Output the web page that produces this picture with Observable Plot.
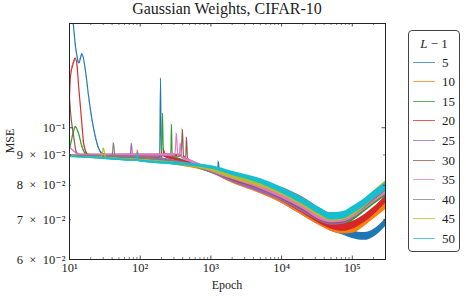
<!DOCTYPE html>
<html><head><meta charset="utf-8">
<script src="https://cdn.jsdelivr.net/npm/d3@7"></script>
<script src="https://cdn.jsdelivr.net/npm/@observablehq/plot@0.6"></script>
<style>
body{margin:0;background:#fff;}
#wrap{position:relative;width:466px;height:299px;font-family:"Liberation Serif","DejaVu Serif",serif;color:#222;overflow:hidden;}
#title{position:absolute;left:69px;width:316px;top:-1px;text-align:center;font-size:16px;line-height:20px;white-space:nowrap;}
#xlabel{position:absolute;left:69px;width:316px;top:278px;text-align:center;font-size:12px;line-height:14px;}
#ylabel{position:absolute;left:10px;top:141px;font-size:12px;line-height:14px;transform:translate(-50%,-50%) rotate(-90deg);white-space:nowrap;}
#legend{position:absolute;left:408px;top:30px;width:50px;height:220px;border:1px solid #444;border-radius:4px;background:#fff;}
#legend .t{position:absolute;left:0;width:50px;top:5px;text-align:center;font-size:13px;line-height:16px;}
#legend .e{position:absolute;left:0;width:50px;height:16px;}
#legend .sw{position:absolute;left:4px;top:7px;width:22px;height:0;border-top:1.6px solid;opacity:0.75;}
#legend .lb{position:absolute;left:33px;top:0;font-size:13px;line-height:16px;}
</style></head>
<body><div id="wrap">
<div id="title">Gaussian Weights, CIFAR-10</div>
<div id="chart"></div>
<div id="xlabel">Epoch</div>
<div id="ylabel">MSE</div>
<div id="legend"></div>
</div>
<script>
// ---- data ----
const lMinus1 = [5, 10, 15, 20, 25, 30, 35, 40, 45, 50];
const palette = ["#1f77b4","#ff7f0e","#2ca02c","#d62728","#9467bd","#8c564b","#e377c2","#7f7f7f","#bcbd22","#17becf"];

const xTicks = [10, 100, 1000, 10000, 100000];
const yTicks = [0.06, 0.07, 0.08, 0.09, 0.1];

// shared epoch grid for the long, smooth part of every run
const lateEpochs = [1e3, 2e3, 5e3, 1e4, 2e4, 3.5e4, 5e4, 7.5e4, 1e5, 1.5e5, 2e5, 3e5];

// early transients: [epoch, MSE]
const early5  = [[10,.175],[11.3,.150],[12.2,.1368],[12.85,.1316],[13.5,.1285],[15.1,.1330],[16.8,.125],[18.7,.1127],[20.9,.1030],[23.3,.0965],[25.9,.0923],[29,.0905],[40,.0895],[188,.0888],[194,.1212],[199,.0887],[250,.0880],[500,.0866],[1240,.0840],[1280,.0876],[1320,.0838]];
const early10 = [[10,.0897],[30,.0890],[88,.0884],[91.5,.0916],[95,.0883],[100,.0883],[300,.0870]];
const early15 = [[10,.0920],[10.3,.0934],[12.2,.1003],[13.5,.0977],[15.1,.0928],[16.8,.0904],[20,.0899],[200,.0898],[207,.1058],[212,.0920],[218,.0897],[270,.0893],[277,.1013],[284,.0892],[350,.0885]];
const early20 = [[10,.112],[10.3,.1218],[11.3,.1283],[12.2,.1308],[12.85,.1266],[13.5,.1171],[14.3,.1084],[15.1,.1003],[15.9,.0940],[17.8,.0904],[19.8,.0898],[210,.0897],[217,.0916],[224,.0895],[300,.0886],[500,.0870]];
const early25 = [[10,.0897],[72,.0896],[75.3,.0941],[78,.0894],[100,.0892],[300,.0878]];
const early30 = [[10,.1125],[10.3,.107],[11.5,.0965],[12.5,.0910],[14,.0900],[100,.0899],[380,.0897],[396,.0994],[410,.0893],[440,.0890],[452,.0964],[468,.0885],[600,.0870]];
const early35 = [[10,.0925],[11,.0918],[12.5,.0905],[14,.0901],[100,.0900],[310,.0900],[326,.0979],[340,.0899],[355,.0898],[371,.0941],[385,.0893],[500,.0880]];
const early40 = [[10,.0897],[40,.0895],[41.9,.0942],[44,.0894],[100,.0890],[300,.0875]];
const early45 = [[10,.0895],[28,.0890],[30.3,.0923],[32.5,.0889],[100,.0881],[300,.0871]];
const early50 = [[10,.0895],[30,.0888],[88,.0881],[91,.0905],[94,.0880],[100,.0879],[300,.0870]];

// MSE on lateEpochs
const late5  = [.0845,.0816,.0785,.0755,.0720,.0693,.0679,.0669,.0661,.0656,.0664,.0693];
const late10 = [.0845,.0813,.0782,.0755,.0720,.0693,.0679,.0672,.0674,.0693,.0712,.0740];
const late15 = [.0845,.0819,.0791,.0764,.0732,.0704,.0695,.0695,.0706,.0732,.0752,.0779];
const late20 = [.0848,.0819,.0788,.0761,.0726,.0698,.0685,.0679,.0685,.0704,.0723,.0758];
const late25 = [.0845,.0816,.0785,.0761,.0729,.0704,.0695,.0698,.0712,.0740,.0767,.0800];
const late30 = [.0848,.0822,.0794,.0767,.0735,.0706,.0698,.0701,.0715,.0740,.0764,.0794];
const late35 = [.0848,.0825,.0797,.0770,.0738,.0709,.0701,.0704,.0715,.0738,.0758,.0785];
const late40 = [.0851,.0832,.0806,.0785,.0755,.0723,.0709,.0709,.0720,.0743,.0764,.0794];
const late45 = [.0851,.0828,.0803,.0779,.0746,.0717,.0706,.0709,.0720,.0746,.0770,.0803];
const late50 = [.0858,.0838,.0813,.0785,.0752,.0723,.0709,.0712,.0726,.0749,.0770,.0797];

// half-width of the noisy band (decades of MSE) versus epoch
const noiseEpochs = [10, 100, 1e3, 1e4, 1e5, 3e5];
const noiseSpread = [0.0012, 0.0015, 0.003, 0.005, 0.0065, 0.0065];

// ---- build table ----
const earlyAll = [early5, early10, early15, early20, early25, early30, early35, early40, early45, early50];
const lateAll = [late5, late10, late15, late20, late25, late30, late35, late40, late45, late50];
const spread = d3.scaleLog().domain(noiseEpochs).range(noiseSpread).clamp(true);

const series = lMinus1.map((L, i) => {
  const pts = earlyAll[i].concat(lateEpochs.map((e, j) => [e, lateAll[i][j]]));
  pts.sort((a, b) => a[0] - b[0]);
  return pts.map(([epoch, mse]) => {
    const h = Math.pow(10, spread(epoch));
    return {L, epoch, mse, lo: mse / h, hi: mse * h};
  });
});

const sup = {"0":"\u2070","1":"\u00b9","2":"\u00b2","3":"\u00b3","4":"\u2074","5":"\u2075","-":"\u207b"};
const toSup = s => String(s).split("").map(c => sup[c]).join("");
const fmtX = d => "10" + toSup(Math.round(Math.log10(d)));
const fmtY = d => Math.abs(d - 0.1) < 1e-9 ? "10" + toSup(-1) : `${Math.round(d * 100)}\u2002\u00d7\u200210${toSup(-2)}`;

const xMinor = [];
for (const dec of [10, 100, 1000, 10000, 100000]) for (let m = 2; m <= 9; m++) if (m * dec <= 2.95e5) xMinor.push(m * dec);
const yMajor = [0.1], yMinor = [0.06, 0.07, 0.08, 0.09];

const W = 466, H = 299, mL = 69, mR = 81, mT = 23, mB = 40;
const pw = W - mL - mR, ph = H - mT - mB;
const ink = "#222";

const marks = [];
series.forEach(rows => {
  marks.push(Plot.areaY(rows, {x: "epoch", y1: "lo", y2: "hi", fill: "L", curve: "monotone-x", clip: true}));
  marks.push(Plot.line(rows, {x: "epoch", y: "mse", stroke: "L", strokeWidth: 1.1, curve: "monotone-x", clip: true}));
});
marks.push(
  Plot.tickX(xTicks, {x: d => d, insetTop: ph - 3.5, stroke: ink, strokeWidth: 0.8}),
  Plot.tickX(xTicks, {x: d => d, insetBottom: ph - 3.5, stroke: ink, strokeWidth: 0.8}),
  Plot.tickX(xMinor, {x: d => d, insetTop: ph - 2, stroke: ink, strokeWidth: 0.6}),
  Plot.tickX(xMinor, {x: d => d, insetBottom: ph - 2, stroke: ink, strokeWidth: 0.6}),
  Plot.tickY(yMajor, {y: d => d, insetRight: pw - 3.5, stroke: ink, strokeWidth: 0.8}),
  Plot.tickY(yMajor, {y: d => d, insetLeft: pw - 3.5, stroke: ink, strokeWidth: 0.8}),
  Plot.tickY(yMinor, {y: d => d, insetRight: pw - 2, stroke: ink, strokeWidth: 0.6}),
  Plot.tickY(yMinor, {y: d => d, insetLeft: pw - 2, stroke: ink, strokeWidth: 0.6}),
  Plot.frame({stroke: ink, strokeWidth: 1})
);

const chart = Plot.plot({
  width: W, height: H,
  marginLeft: mL, marginRight: mR, marginTop: mT, marginBottom: mB,
  style: {fontFamily: '"Liberation Serif","DejaVu Serif",serif', fontSize: "12.5px", color: ink, background: "transparent"},
  x: {type: "log", domain: [10, 2.95e5], ticks: xTicks, tickFormat: fmtX, tickSize: 0, tickPadding: 4, label: null},
  y: {type: "log", domain: [0.06, 0.1498], ticks: yTicks, tickFormat: fmtY, tickSize: 0, tickPadding: 4, label: null},
  color: {type: "ordinal", domain: lMinus1, range: palette},
  marks
});
document.getElementById("chart").appendChild(chart);

// legend
const lg = document.getElementById("legend");
const t = document.createElement("div");
t.className = "t";
t.innerHTML = "<i>L</i> \u2212 1";
lg.appendChild(t);
lMinus1.forEach((L, i) => {
  const e = document.createElement("div");
  e.className = "e";
  e.style.top = (23.5 + 19.6 * i) + "px";
  const sw = document.createElement("div");
  sw.className = "sw";
  sw.style.borderTopColor = palette[i];
  const lb = document.createElement("div");
  lb.className = "lb";
  lb.textContent = String(L);
  e.appendChild(sw); e.appendChild(lb);
  lg.appendChild(e);
});
</script>
</body></html>
